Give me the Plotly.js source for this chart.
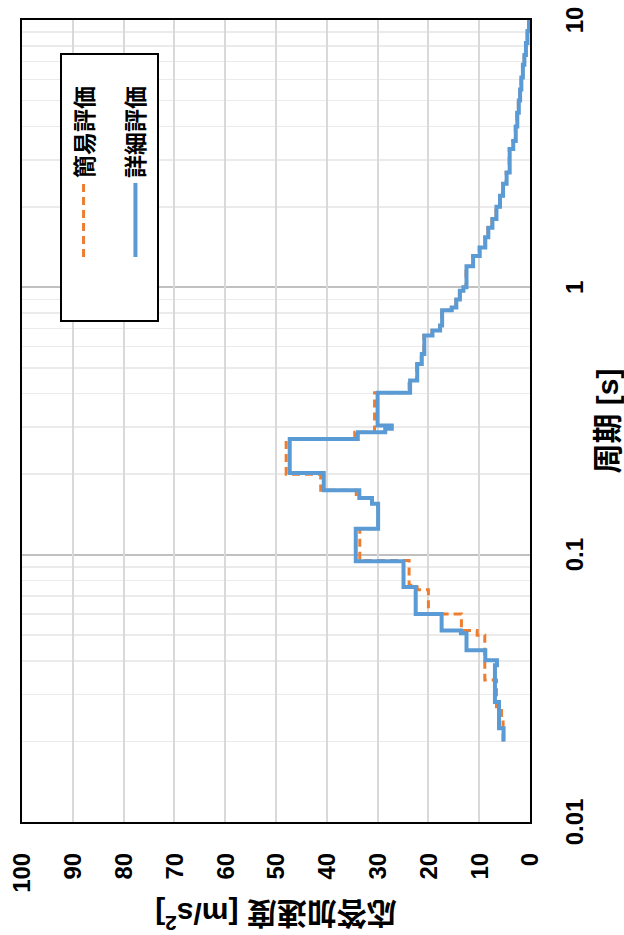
<!DOCTYPE html>
<html>
<head>
<meta charset="utf-8">
<script src="https://cdn.plot.ly/plotly-3.0.1.min.js"></script>
<style>
  html, body { margin: 0; padding: 0; width: 624px; height: 935px; overflow: hidden; background: #fff; }
  #chart { position: absolute; left: 0; top: 935px; width: 935px; height: 624px;
           transform-origin: 0 0; transform: rotate(-90deg); }
</style>
</head>
<body>
<div id="chart"></div>
<script>
// 詳細評価 (detailed evaluation) — step function: value holds from this period to the next
const periodDetail = [0.02, 0.0224, 0.0281, 0.0386, 0.0403, 0.0439, 0.0508, 0.052, 0.06, 0.0757,
  0.0944, 0.125, 0.155, 0.163, 0.174, 0.202, 0.271, 0.287, 0.296, 0.304,
  0.403, 0.448, 0.517, 0.563, 0.66, 0.69, 0.72, 0.82, 0.84, 0.9,
  0.97, 1.0, 1.2, 1.31, 1.41, 1.54, 1.67, 1.8, 2.0, 2.2,
  2.44, 2.69, 3.29, 3.53, 4.0, 4.5, 5.0, 5.5, 6.1, 6.8,
  7.4, 8.2, 9.1, 10];
const accDetail = [5.2, 6.1, 6.9, 6.5, 8.8, 12.5, 13.6, 17.4, 22.5, 24.9,
  34.3, 29.9, 31.1, 33.6, 40.6, 47.3, 33.9, 28.5, 27.2, 30.0,
  23.6, 22.2, 21.3, 20.8, 19.2, 17.7, 17.3, 15.4, 14.5, 13.8,
  13.1, 12.5, 11.2, 9.9, 8.8, 8.2, 7.4, 6.6, 5.9, 5.3,
  4.6, 4.0, 3.3, 2.8, 2.5, 2.2, 1.95, 1.7, 1.4, 1.1,
  0.8, 0.5, 0.2, 0.1];

// 簡易評価 (simplified evaluation)
const periodSimple = [0.02, 0.024, 0.027, 0.034, 0.05, 0.052, 0.06, 0.074, 0.0768, 0.095,
  0.125, 0.155, 0.163, 0.174, 0.2, 0.27, 0.287, 0.403, 0.448, 0.517,
  0.563, 0.66, 0.69, 0.72, 0.82, 0.84, 0.9, 0.97, 1.0, 1.2,
  1.31, 1.41, 1.54, 1.67, 1.8, 2.0, 2.2, 2.44, 2.69, 3.29,
  3.53, 4.0, 4.5, 5.0, 5.5, 6.1, 6.8, 7.4, 8.2, 9.1, 10];
const accSimple = [5.3, 5.6, 6.6, 8.9, 10.4, 13.5, 20.0, 22.2, 23.8, 33.5,
  29.9, 31.1, 34.2, 41.2, 48.0, 34.5, 30.6, 23.8, 22.3, 21.4,
  20.9, 19.3, 17.8, 17.4, 15.5, 14.6, 13.9, 13.2, 12.6, 11.3,
  10.0, 8.9, 8.3, 7.5, 6.7, 6.0, 5.4, 4.7, 4.1, 3.4,
  2.9, 2.6, 2.3, 2.0, 1.75, 1.45, 1.15, 0.85, 0.55, 0.25, 0.12];

const seriesNames = ['簡易評価', '詳細評価'];
const periodTicks = [0.01, 0.1, 1, 10];
const periodTickText = ['0.01', '0.1', '1', '10'];
const minorMultipliers = [2, 3, 4, 5, 6, 7, 8, 9];
const decades = [0.01, 0.1, 1];

const minorVals = [];
decades.forEach(d => minorMultipliers.forEach(m => minorVals.push(+(d * m).toPrecision(3))));

const FONT = 'Liberation Sans, "Noto Sans CJK JP", Arial, sans-serif';
const LEGEND_PAD = '\u00a0\u00a0\u00a0\u00a0';  // right-hand padding inside the legend box

const traces = [
  { x: periodSimple, y: accSimple, name: seriesNames[0] + LEGEND_PAD, type: 'scatter', mode: 'lines',
    line: { shape: 'hv', color: '#ED7D31', width: 3, dash: '8px,5px' }, legendgroup: 'a' },
  { x: periodDetail, y: accDetail, name: seriesNames[1] + LEGEND_PAD, type: 'scatter', mode: 'lines',
    line: { shape: 'hv', color: '#5B9BD5', width: 4 }, legendgroup: 'b' }
];

const layout = {
  width: 935, height: 624,
  margin: { l: 113, r: 20, t: 22, b: 94 },
  paper_bgcolor: '#ffffff', plot_bgcolor: '#ffffff',
  font: { family: FONT, color: '#000000' },
  showlegend: true,
  legend: {
    x: 0.6234, y: 0.925, xanchor: 'left', yanchor: 'top',
    bgcolor: '#ffffff', bordercolor: '#000000', borderwidth: 2,
    font: { family: FONT, size: 23, weight: 'bold', color: '#000' },
    tracegroupgap: 19, itemwidth: 74, indentation: 58
  },
  xaxis: {
    type: 'log', range: [-2, 1],
    tickvals: periodTicks, ticktext: periodTickText,
    tickfont: { family: FONT, size: 24, weight: 'bold', color: '#000' },
    ticks: '', ticklabelstandoff: 22,
    showgrid: true, gridcolor: '#c0c0c0', gridwidth: 2,
    minor: { tickvals: minorVals, showgrid: true, gridcolor: '#ebebeb', gridwidth: 1.5, ticks: '' },
    showline: true, mirror: true, linecolor: '#000000', linewidth: 2,
    zeroline: false,
    title: { text: '周期 [s]', font: { family: FONT, size: 30, weight: 'bold', color: '#000' }, standoff: 12 }
  },
  yaxis: {
    range: [0, 100], dtick: 10, tick0: 0,
    tickfont: { family: FONT, size: 24, weight: 'bold', color: '#000' },
    ticks: '', ticklabelstandoff: 24,
    showgrid: true, gridcolor: '#d9d9d9', gridwidth: 2,
    showline: true, mirror: true, linecolor: '#000000', linewidth: 2,
    zeroline: false,
    title: { text: '応答加速度 [m/s<sup>2</sup>]', font: { family: FONT, size: 30, weight: 'bold', color: '#000' }, standoff: 8 }
  }
};

Plotly.newPlot('chart', traces, layout, { staticPlot: true, responsive: false, displayModeBar: false });
</script>
</body>
</html>
